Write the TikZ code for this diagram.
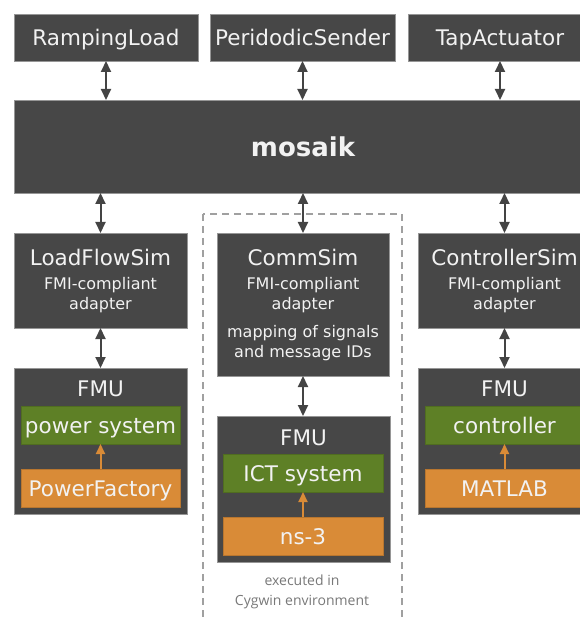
\documentclass[tikz,border=0pt]{standalone}
\usepackage{fontspec}
\setmainfont{DejaVu Sans}
\newfontfamily\notefont{Open Sans}
\usetikzlibrary{arrows.meta}
\definecolor{boxgray}{RGB}{71,71,71}
\definecolor{boxline}{RGB}{150,150,150}
\definecolor{fmgreen}{RGB}{94,128,38}
\definecolor{fmorange}{RGB}{217,139,55}
\definecolor{txtwhite}{RGB}{242,242,242}
\definecolor{arrgray}{RGB}{68,68,68}
\definecolor{dashgray}{RGB}{160,160,160}
\definecolor{notegray}{RGB}{120,120,120}
\tikzset{
  big/.style={font=\fontsize{21.5}{24}\selectfont, text height=20pt, text depth=3.4pt},
  blk/.style={draw=boxline, line width=0.8pt, fill=boxgray, inner sep=0pt, outer sep=0pt, text=txtwhite},
  grn/.style={fill=fmgreen, draw=fmgreen!85!black, line width=0.6pt, inner sep=0pt, outer sep=0pt, text=txtwhite, big},
  org/.style={fill=fmorange, draw=fmorange!85!black, line width=0.6pt, inner sep=0pt, outer sep=0pt, text=txtwhite, big},
  bigtxt/.style={text=txtwhite, inner sep=0pt, big},
  subtxt/.style={text=txtwhite, inner sep=0pt, align=center, font=\fontsize{16}{20}\selectfont},
  dblarr/.style={draw=arrgray, line width=2pt, {Triangle[length=11pt,width=10pt]}-{Triangle[length=11pt,width=10pt]}},
  orgarr/.style={draw=fmorange, line width=2pt, -{Triangle[length=10pt,width=9pt]}},
}
\begin{document}
\begin{tikzpicture}[x=1pt,y=-1pt]
\useasboundingbox (0,0) rectangle (579,617);
% dashed environment box
\draw[dashgray, line width=1.5pt, dash pattern=on 7pt off 5pt] (203,214) rectangle (402,640);
% top row
\node[blk, big, minimum width=184, minimum height=47] (rl) at (106,37.5) {RampingLoad};
\node[blk, big, minimum width=185, minimum height=47] (ps) at (302.5,37.5) {PeridodicSender};
\node[blk, big, minimum width=184, minimum height=47] (ta) at (500,37.5) {TapActuator};
% mosaik
\node[blk, minimum width=578, minimum height=93, font=\fontsize{26}{30}\selectfont\bfseries, text height=24pt, text depth=3pt] (mo) at (303,146.5) {mosaik};
% second row
\node[blk, minimum width=173, minimum height=95] (lfs) at (100.5,280.5) {};
\node[bigtxt] (lfst) at (100.5,257) {LoadFlowSim};
\node[subtxt] (lfss) at (100.5,295) {FMI-compliant\\adapter};
\node[blk, minimum width=172, minimum height=143] (cs) at (303,304.5) {};
\node[bigtxt] (cst) at (303,257) {CommSim};
\node[subtxt] (css) at (303,295) {FMI-compliant\\adapter};
\node[subtxt] (csm) at (303,343) {mapping of signals\\and message IDs};
\node[blk, minimum width=173, minimum height=95] (ctl) at (504.5,280.5) {};
\node[bigtxt] (ctlt) at (504.5,257) {ControllerSim};
\node[subtxt] (ctls) at (504.5,295) {FMI-compliant\\adapter};
% FMUs
\node[blk, minimum width=173, minimum height=146] (f1) at (100.5,441) {};
\node[bigtxt] (f1t) at (100.5,388) {FMU};
\node[grn, minimum width=159, minimum height=38] (g1) at (100.5,425) {power system};
\node[org, minimum width=159, minimum height=38] (o1) at (100.5,488) {PowerFactory};
\node[blk, minimum width=173, minimum height=146] (f2) at (303.5,489) {};
\node[bigtxt] (f2t) at (303.5,437) {FMU};
\node[grn, minimum width=160, minimum height=38] (g2) at (303,473) {ICT system};
\node[org, minimum width=160, minimum height=38] (o2) at (303,536) {ns-3};
\node[blk, minimum width=173, minimum height=146] (f3) at (504.5,441) {};
\node[bigtxt] (f3t) at (504.5,388) {FMU};
\node[grn, minimum width=159, minimum height=38] (g3) at (504.5,425) {controller};
\node[org, minimum width=159, minimum height=38] (o3) at (504.5,488) {MATLAB};
% note
\node[text=notegray, inner sep=0pt, align=center, font=\notefont\fontsize{14}{20}\selectfont] (note) at (302,592) {executed in\\Cygwin environment};
% arrows
\draw[dblarr] (rl.south) -- (rl.south |- mo.north);
\draw[dblarr] (ps.south) -- (ps.south |- mo.north);
\draw[dblarr] (ta.south) -- (ta.south |- mo.north);
\draw[dblarr] (lfs.north |- mo.south) -- (lfs.north);
\draw[dblarr] (cs.north |- mo.south) -- (cs.north);
\draw[dblarr] (ctl.north |- mo.south) -- (ctl.north);
\draw[dblarr] (lfs.south) -- (lfs.south |- f1.north);
\draw[dblarr] (cs.south) -- (cs.south |- f2.north);
\draw[dblarr] (ctl.south) -- (ctl.south |- f3.north);
\draw[orgarr] (o1.north) -- (g1.south);
\draw[orgarr] (o2.north) -- (g2.south);
\draw[orgarr] (o3.north) -- (g3.south);
\end{tikzpicture}
\end{document}
